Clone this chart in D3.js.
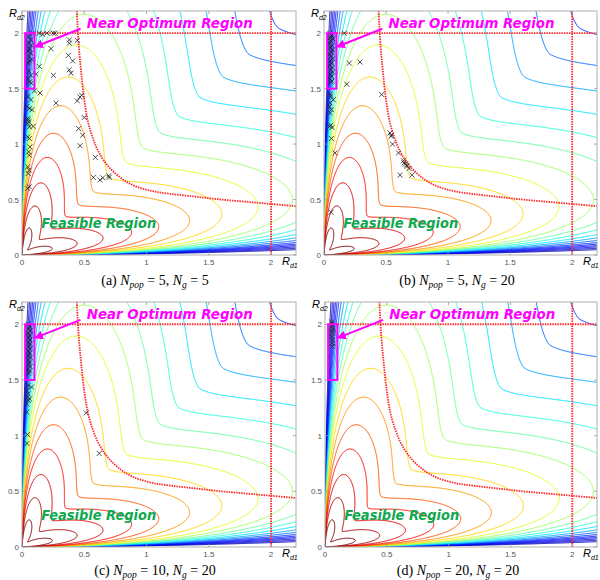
<!DOCTYPE html>
<html>
<head>
<meta charset="utf-8">
<script src="https://cdn.jsdelivr.net/npm/d3@7"></script>
<style>
  body { margin: 0; background: #fff; }
</style>
</head>
<body>
<div id="chart"></div>
<script>
// ---- data ----
const axisTicks = [0, 0.5, 1, 1.5, 2];
const axisTickLabels = ["0", "0.5", "1", "1.5", "2"];
const domainMax = 2.2;

// contour levels, highest first
const contourLevels = [1.815, 1.324, 1.032, 0.83, 0.70, 0.594, 0.513, 0.445, 0.395, 0.354,
  0.318, 0.285, 0.256, 0.23, 0.206, 0.186, 0.167, 0.147, 0.126, 0.103];

// surface model parameters
const riseScale = 0.14, dipLevel = 0.45, dipExp = 1.5, radialOffset = 0.3;

// red dotted constraint lines
const boundaryRd1 = [0.44, 0.455, 0.475, 0.5, 0.53, 0.57, 0.62, 0.7, 0.8, 0.9, 1.05, 1.2, 1.4, 1.6, 1.8, 2.0, 2.2];
const boundaryRd2 = [2.2, 1.9, 1.65, 1.4, 1.2, 1.05, 0.92, 0.79, 0.69, 0.625, 0.575, 0.55, 0.525, 0.5, 0.48, 0.46, 0.44];
const limitRd1 = 2, limitRd2 = 2, limitRd2Start = 0.1;

// near optimum box and arrow
const boxRd1 = [0.025, 0.1], boxRd2 = [1.5, 2.0];
const arrowFrom = [0.47, 2.04], arrowTo = [0.11, 1.88];
const optimumText = "Near Optimum Region", optimumPos = [0.52, 2.05];
const feasibleText = "Feasible Region", feasiblePos = [0.155, 0.245];

// sub-figures
const panelTags = ["a", "b", "c", "d"];
const panelNpop = [5, 5, 10, 20];
const panelNg = [5, 20, 20, 20];

const markersA = [[0.09,2.0],[0.14,2.0],[0.165,1.99],[0.2,2.0],[0.25,2.0],[0.265,2.0],
  [0.233,1.86],[0.38,1.94],[0.38,1.91],[0.444,1.935],[0.372,1.8],[0.407,1.75],[0.38,1.67],[0.394,1.64],
  [0.252,1.62],[0.139,1.70],[0.112,1.63],[0.099,1.48],[0.145,1.46],[0.273,1.37],[0.444,1.39],[0.466,1.425],
  [0.479,1.44],[0.50,1.24],[0.455,1.14],[0.487,1.08],[0.466,0.985],[0.589,0.88],[0.573,0.70],[0.627,0.676],
  [0.648,0.696],[0.696,0.714],[0.70,0.70],
  [0.05,1.97],[0.07,1.94],[0.055,1.91],[0.075,1.89],[0.06,1.86],[0.05,1.84],[0.07,1.82],[0.058,1.79],
  [0.078,1.76],[0.062,1.75],[0.05,1.73],[0.055,1.66],[0.072,1.62],[0.05,1.59],[0.06,1.56],[0.075,1.55],
  [0.046,1.43],[0.072,1.40],[0.04,1.34],[0.059,1.32],[0.08,1.31],[0.09,1.16],[0.046,1.23],[0.046,1.215],
  [0.054,1.20],[0.046,1.185],[0.059,1.155],[0.046,1.065],[0.059,1.05],[0.064,0.975],[0.054,0.93],[0.059,0.90],
  [0.046,0.795],[0.059,0.765],[0.05,0.735],[0.059,0.615],[0.046,0.60]];
const markersB = [[0.045,2.0],[0.06,1.98],[0.05,1.96],[0.07,1.95],[0.055,1.93],[0.045,1.91],[0.065,1.89],
  [0.05,1.87],[0.07,1.85],[0.06,1.83],[0.045,1.81],[0.055,1.79],[0.07,1.77],[0.05,1.75],[0.06,1.73],
  [0.045,1.71],[0.065,1.69],[0.055,1.67],[0.07,1.65],[0.05,1.63],[0.06,1.61],[0.045,1.59],[0.065,1.57],
  [0.055,1.56],[0.164,2.0],[0.204,1.73],[0.29,1.74],[0.183,1.54],[0.465,1.447],[0.075,1.40],[0.05,1.45],
  [0.055,1.43],[0.05,1.37],[0.045,1.34],[0.06,1.31],[0.05,1.28],[0.055,1.17],[0.045,1.16],[0.065,1.15],
  [0.06,1.05],[0.089,0.92],[0.057,0.385],[0.532,1.10],[0.545,1.08],[0.54,1.07],[0.553,1.0],[0.6,0.92],
  [0.64,0.85],[0.645,0.83],[0.655,0.82],[0.665,0.81],[0.67,0.80],[0.685,0.78],[0.613,0.72],[0.71,0.72]];
const markersC = [[0.05,2.0],[0.06,1.98],[0.055,1.96],[0.065,1.94],[0.05,1.92],[0.06,1.90],[0.055,1.88],
  [0.065,1.86],[0.05,1.84],[0.06,1.82],[0.055,1.80],[0.065,1.78],[0.05,1.76],[0.06,1.74],[0.055,1.72],
  [0.065,1.70],[0.05,1.68],[0.06,1.66],[0.055,1.64],[0.065,1.62],[0.05,1.60],[0.06,1.58],[0.055,1.56],
  [0.05,1.45],[0.077,1.436],[0.038,1.405],[0.05,1.375],[0.045,1.346],[0.06,1.33],[0.05,1.316],[0.038,1.286],
  [0.038,1.21],[0.045,1.01],[0.04,0.93],[0.516,1.205],[0.62,0.84]];
const markersD = [[0.055,2.02],[0.06,2.0],[0.055,1.98],[0.06,1.96],[0.058,1.94],[0.06,1.92],[0.056,1.89],
  [0.06,1.86],[0.058,1.83],[0.06,1.80]];
const panelMarkers = [markersA, markersB, markersC, markersD];

// ---- layout ----
const layout = [
  { left: 22, top: 11, width: 274, height: 244, capY: 285 },
  { left: 324, top: 11, width: 273, height: 244, capY: 285 },
  { left: 22, top: 302, width: 274, height: 245, capY: 575 },
  { left: 325, top: 302, width: 272, height: 245, capY: 575 }
];

const svg = d3.select("#chart").append("svg")
  .attr("width", 600)
  .attr("height", 580)
  .style("font-family", "'Liberation Sans', Arial, sans-serif");

const defs = svg.append("defs");
defs.append("marker")
  .attr("id", "arrowhead")
  .attr("viewBox", "0 0 10 10")
  .attr("refX", 8).attr("refY", 5)
  .attr("markerWidth", 4.5).attr("markerHeight", 4.5)
  .attr("markerUnits", "strokeWidth")
  .attr("orient", "auto")
  .append("path")
  .attr("d", "M0,0 L10,5 L0,10 z")
  .attr("fill", "#ff00ff");

// jet colormap
function jet(t) {
  const c = v => Math.max(0, Math.min(1, v));
  const r = c(1.5 - Math.abs(4 * t - 3)), g = c(1.5 - Math.abs(4 * t - 2)), b = c(1.5 - Math.abs(4 * t - 1));
  return d3.rgb(r * 255, g * 255, b * 255).toString();
}
const levelColor = d3.scaleLinear()
  .domain([0, 3, 8, 14, contourLevels.length - 1])
  .range([1.0, 0.86, 0.53, 0.17, 0.05]);

// surface: angular shape (u = angle from nearest axis / 45deg) times radial decay
const angular = u => (1 - Math.exp(-u / riseScale)) * (dipLevel + (1 - dipLevel) * Math.pow(1 - u, dipExp));
const angularPeak = d3.max(d3.range(0, 1.0001, 0.001), angular);
function surface(x, y) {
  if (x <= 0 || y <= 0) return Math.min(x, y);
  const r = Math.hypot(x, y);
  const u = Math.atan2(Math.min(x, y), Math.max(x, y)) / (Math.PI / 4);
  return angular(u) / angularPeak / (r + radialOffset);
}
const gMin = -0.05, gMax = 2.3, step = 0.005;
const n = Math.round((gMax - gMin) / step) + 1;
const grid = new Float64Array(n * n);
for (let j = 0; j < n; j++) {
  for (let i = 0; i < n; i++) {
    grid[j * n + i] = surface(gMin + i * step, gMin + j * step);
  }
}
const contours = d3.contours().size([n, n]).thresholds(contourLevels)(grid);

// draw each sub-figure
layout.forEach((L, k) => {
  const x = d3.scaleLinear().domain([0, domainMax]).range([L.left, L.left + L.width]);
  const y = d3.scaleLinear().domain([0, domainMax]).range([L.top + L.height, L.top]);
  const g = svg.append("g");

  const clipId = "clip" + k;
  defs.append("clipPath").attr("id", clipId)
    .append("rect")
    .attr("x", L.left).attr("y", L.top)
    .attr("width", L.width).attr("height", L.height);

  const proj = d3.geoTransform({
    point: function(px, py) {
      this.stream.point(x(gMin + (px - 0.5) * step), y(gMin + (py - 0.5) * step));
    }
  });
  const path = d3.geoPath(proj);

  const plot = g.append("g").attr("clip-path", `url(#${clipId})`);
  plot.selectAll(".contour")
    .data(contours)
    .enter().append("path")
    .attr("class", "contour")
    .attr("d", path)
    .attr("fill", "none")
    .attr("stroke", d => jet(levelColor(contourLevels.indexOf(d.value))))
    .attr("stroke-width", 1);

  // red dotted constraints
  const dotted = { stroke: "#ff2a2a", width: 1.8, dash: "1.5,1" };
  const boundaryLine = d3.line()
    .x((d, i) => x(boundaryRd1[i]))
    .y((d, i) => y(boundaryRd2[i]))
    .curve(d3.curveCatmullRom);
  plot.append("path")
    .datum(boundaryRd1)
    .attr("d", boundaryLine)
    .attr("fill", "none")
    .attr("stroke", dotted.stroke)
    .attr("stroke-width", dotted.width)
    .attr("stroke-dasharray", dotted.dash);
  plot.append("line")
    .attr("x1", x(limitRd1)).attr("x2", x(limitRd1))
    .attr("y1", y(0)).attr("y2", y(domainMax))
    .attr("stroke", dotted.stroke)
    .attr("stroke-width", dotted.width)
    .attr("stroke-dasharray", dotted.dash);
  plot.append("line")
    .attr("x1", x(limitRd2Start)).attr("x2", x(domainMax))
    .attr("y1", y(limitRd2)).attr("y2", y(limitRd2))
    .attr("stroke", dotted.stroke)
    .attr("stroke-width", dotted.width)
    .attr("stroke-dasharray", dotted.dash);

  // frame and ticks
  g.append("rect")
    .attr("x", L.left).attr("y", L.top)
    .attr("width", L.width).attr("height", L.height)
    .attr("fill", "none")
    .attr("stroke", "#b0b0b0")
    .attr("stroke-width", 1);

  axisTicks.forEach((v, i) => {
    const tickStyle = sel => sel.attr("stroke", "#999").attr("stroke-width", 0.8);
    g.append("line").attr("x1", x(v)).attr("x2", x(v))
      .attr("y1", y(0)).attr("y2", y(0) - 3).call(tickStyle);
    g.append("line").attr("x1", x(v)).attr("x2", x(v))
      .attr("y1", y(domainMax)).attr("y2", y(domainMax) + 3).call(tickStyle);
    g.append("line").attr("y1", y(v)).attr("y2", y(v))
      .attr("x1", x(0)).attr("x2", x(0) + 3).call(tickStyle);
    g.append("line").attr("y1", y(v)).attr("y2", y(v))
      .attr("x1", x(domainMax)).attr("x2", x(domainMax) - 3).call(tickStyle);

    g.append("text")
      .attr("x", x(v)).attr("y", y(0) + 10)
      .attr("text-anchor", "middle")
      .attr("font-size", 8)
      .attr("fill", "#555")
      .text(axisTickLabels[i]);
    g.append("text")
      .attr("x", x(0) - 3).attr("y", y(v) + 3)
      .attr("text-anchor", "end")
      .attr("font-size", 8)
      .attr("fill", "#555")
      .text(axisTickLabels[i]);
  });

  // markers
  g.selectAll(".mk")
    .data(panelMarkers[k])
    .enter().append("path")
    .attr("class", "mk")
    .attr("transform", d => `translate(${x(d[0])},${y(d[1])})`)
    .attr("d", d3.symbol(d3.symbolTimes, 18))
    .attr("fill", "none")
    .attr("stroke", "#222")
    .attr("stroke-width", 0.8);

  // near optimum box, arrow and labels
  g.append("rect")
    .attr("x", x(boxRd1[0])).attr("y", y(boxRd2[1]))
    .attr("width", x(boxRd1[1]) - x(boxRd1[0]))
    .attr("height", y(boxRd2[0]) - y(boxRd2[1]))
    .attr("fill", "none")
    .attr("stroke", "#ff00ff")
    .attr("stroke-width", 2);
  g.append("line")
    .attr("x1", x(arrowFrom[0])).attr("y1", y(arrowFrom[1]))
    .attr("x2", x(arrowTo[0])).attr("y2", y(arrowTo[1]))
    .attr("stroke", "#ff00ff")
    .attr("stroke-width", 2)
    .attr("marker-end", "url(#arrowhead)");
  g.append("text")
    .attr("x", x(optimumPos[0])).attr("y", y(optimumPos[1]))
    .attr("font-family", "'DejaVu Sans', Verdana, sans-serif")
    .attr("font-weight", "bold").attr("font-style", "italic")
    .attr("font-size", 14)
    .attr("textLength", 166).attr("lengthAdjust", "spacingAndGlyphs")
    .attr("fill", "#ff00ff")
    .text(optimumText);
  g.append("text")
    .attr("x", x(feasiblePos[0])).attr("y", y(feasiblePos[1]))
    .attr("font-family", "'DejaVu Sans', Verdana, sans-serif")
    .attr("font-weight", "bold").attr("font-style", "italic")
    .attr("font-size", 14)
    .attr("textLength", 115).attr("lengthAdjust", "spacingAndGlyphs")
    .attr("fill", "#10a850")
    .text(feasibleText);

  // axis names
  const yName = g.append("text")
    .attr("x", L.left - 13).attr("y", L.top + 6)
    .attr("font-style", "italic").attr("font-size", 11);
  yName.append("tspan").text("R");
  yName.append("tspan").attr("font-size", 7).attr("dy", 2.5).text("d2");
  const xName = g.append("text")
    .attr("x", L.left + L.width - 14).attr("y", L.top + L.height + 10)
    .attr("font-style", "italic").attr("font-size", 11);
  xName.append("tspan").text("R");
  xName.append("tspan").attr("font-size", 7).attr("dy", 2.5).text("d1");

  // caption
  const cap = g.append("text")
    .attr("x", L.left + 133).attr("y", L.capY)
    .attr("text-anchor", "middle")
    .attr("font-family", "'Liberation Serif', 'Times New Roman', serif")
    .attr("font-size", 14);
  cap.append("tspan").text(`(${panelTags[k]}) `);
  cap.append("tspan").attr("font-style", "italic").text("N");
  cap.append("tspan").attr("font-style", "italic").attr("font-size", 9.5).attr("dy", 2.5).text("pop");
  cap.append("tspan").attr("dy", -2.5).text(` = ${panelNpop[k]}, `);
  cap.append("tspan").attr("font-style", "italic").text("N");
  cap.append("tspan").attr("font-style", "italic").attr("font-size", 9.5).attr("dy", 2.5).text("g");
  cap.append("tspan").attr("dy", -2.5).text(` = ${panelNg[k]}`);
});
</script>
</body>
</html>
